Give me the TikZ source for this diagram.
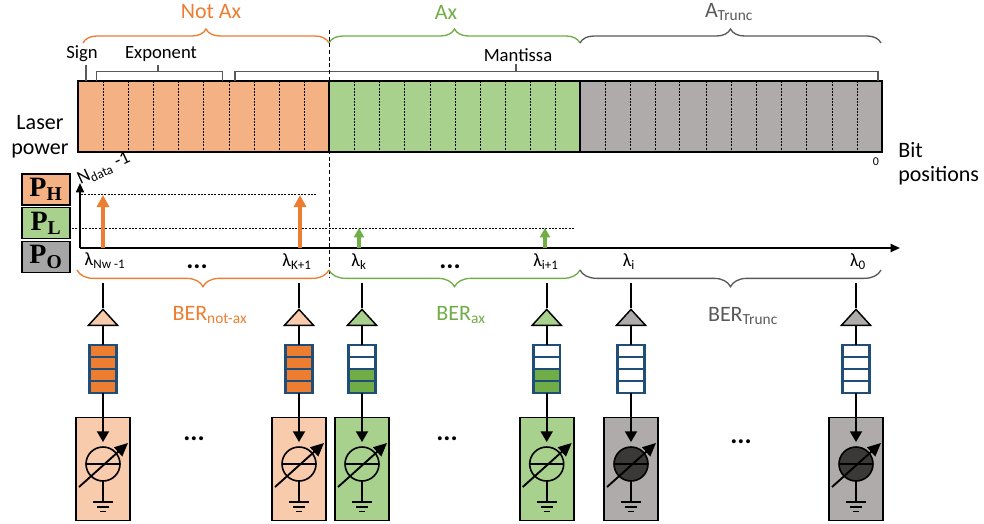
\documentclass[tikz,border=0pt]{standalone}
\usepackage{fontspec}
\setmainfont{Carlito}
\newfontfamily\levelfont{Liberation Serif}
\usetikzlibrary{shapes.geometric,arrows.meta,decorations.pathreplacing,calc}
\definecolor{barorange}{HTML}{F4B183}
\definecolor{bargreen}{HTML}{A9D18E}
\definecolor{bargray}{HTML}{AFABAB}
\definecolor{srcorange}{HTML}{F8CBAD}
\definecolor{lineorange}{HTML}{ED7D31}
\definecolor{linegreen}{HTML}{70AD47}
\definecolor{linegray}{HTML}{595959}
\definecolor{slotblue}{HTML}{1F4E79}
\definecolor{darkcirc}{HTML}{3B3838}
\definecolor{levelgray}{HTML}{A6A6A6}

\begin{document}
\begin{tikzpicture}[x=0.75pt, y=-0.75pt, node distance=39pt,
    bar/.style={draw, line width=1.5pt, minimum height=53.25pt, anchor=north west, inner sep=0pt, outer sep=0pt},
    cell/.style={dash pattern=on 1.5pt off 1pt, line width=0.7pt},
    level/.style={draw, line width=1.1pt, minimum width=36pt, minimum height=23pt, inner sep=0pt, font=\levelfont\fontsize{21}{21}\selectfont\bfseries},
    big/.style={font=\fontsize{16.5}{18}\selectfont, inner sep=0pt},
    mid/.style={font=\fontsize{14}{16}\selectfont, inner sep=0pt},
    tag/.style={line width=0.8pt, draw=linegray},
    bracetop/.style={line width=1pt, decorate, decoration={brace, amplitude=10.5pt}},
    bracelow/.style={line width=1pt, decorate, decoration={brace, mirror, amplitude=12.5pt}},
    axis/.style={line width=1.4pt, -{Triangle[length=7pt, width=6pt]}},
    power/.style={line width=2.5pt, -{Triangle[length=9pt, width=9pt]}},
    powerlow/.style={line width=2.6pt, -{Triangle[length=7pt, width=7.5pt]}},
    amp/.style={draw, line width=1.1pt, isosceles triangle, isosceles triangle stretches, shape border rotate=90, minimum width=22pt, minimum height=12pt, inner sep=0pt},
    slot/.style={draw=slotblue, line width=1.8pt, minimum width=20pt, minimum height=9pt, inner sep=0pt, outer sep=0pt, node distance=9pt},
    srcbox/.style={draw, line width=1.2pt, minimum width=40.5pt, minimum height=77pt, inner sep=0pt},
    srccirc/.style={draw, circle, line width=1.2pt, minimum size=25.5pt, inner sep=0pt, outer sep=0pt},
    wire/.style={line width=1.4pt},
    dots/.style={font=\fontsize{20}{20}\selectfont\bfseries, inner sep=0pt}]
    \useasboundingbox (0,0) rectangle (984,524);

    % Bit fields
    \node[bar, fill=barorange, minimum width=188.25pt] (notax) at (78,81) {};
    \node[bar, fill=bargreen, minimum width=188.25pt] (ax) at (329,81) {};
    \node[bar, fill=bargray, minimum width=226.5pt] (trunc) at (580,81) {};
    \foreach \x in {103,128,153,178,203,229,254,279,304,354,379.5,404.5,430,455,480,505,530,555,605,630,655,679,706,731,756,781,806,832,857}
        \draw[cell] (\x,81) -- (\x,152);

    % Braces and field labels
    \draw[bracetop, draw=lineorange] (83,43) -- (329,43);
    \draw[bracetop, draw=linegreen] (329,43) -- (580,43);
    \draw[bracetop, draw=linegray] (580,43) -- (881,43);
    \node[big, text=lineorange] (notaxlabel) at (211,12) {Not Ax};
    \node[big, text=linegreen] (axlabel) at (446,12) {Ax};
    \node[big, text=linegray] (trunclabel) at (729,12) {A\textsubscript{Trunc}};
    \node[mid] (sign) at (82,54) {Sign};
    \node[mid] (exponent) at (161,54) {Exponent};
    \node[mid] (mantissa) at (518,55) {Mantissa};
    \draw[tag] (86,65) -- (86,81);
    \draw[tag] (96.5,81) -- (96.5,71.5) -- (222.5,71.5) -- (222.5,81);
    \draw[tag] (158,65) -- (158,71.5);
    \draw[tag] (235,81) -- (235,71.5) -- (878,71.5) -- (878,81);
    \draw[tag] (516,64) -- (516,71.5);

    % Side labels
    \node[big] (laser) at (40,123) {Laser};
    \node[big] (laserpower) at (40,151) {power};
    \node[big, anchor=west] (bit) at (898,150) {Bit};
    \node[big, anchor=west] (bitpos) at (898,176) {positions};
    \node[font=\fontsize{9}{9}\selectfont, inner sep=0pt] (zero) at (876,162) {0};
    \node[mid, rotate=25] (msb) at (104,169) {N\textsubscript{data} -1};

    % Power levels
    \node[level, fill=barorange] (ph) at (46,189.5) {P\textsubscript{H}};
    \node[level, fill=bargreen] (pl) at (46,223) {P\textsubscript{L}};
    \node[level, fill=levelgray] (po) at (46,257) {P\textsubscript{O}};
    \draw[cell] (81,194.5) -- (316,194.5);
    \draw[cell] (72,228) -- (575,228);

    % Axes
    \coordinate (origin) at (80,248);
    \coordinate (xend) at (900,248);
    \coordinate (yend) at (80,183);
    \draw[axis] (origin) -- (xend);
    \draw[axis] (origin) -- (yend);
    \coordinate (split) at (329,30);
    \coordinate (splitend) at (329,278);
    \draw[densely dashed, line width=0.7pt] (split) -- (splitend);

    % Laser arrows
    \coordinate (high1) at (103,195);
    \coordinate (high2) at (300,195);
    \coordinate (low1) at (359,228);
    \coordinate (low2) at (545,228);
    \draw[power, lineorange] (high1 |- origin) -- (high1);
    \draw[power, lineorange] (high2 |- origin) -- (high2);
    \draw[powerlow, linegreen] (low1 |- origin) -- (low1);
    \draw[powerlow, linegreen] (low2 |- origin) -- (low2);

    % Wavelengths
    \node[mid] (lam1) at (105,261) {λ\textsubscript{Nw -1}};
    \node[mid] (lam2) at (297,262) {λ\textsubscript{K+1}};
    \node[mid] (lam3) at (359,262) {λ\textsubscript{k}};
    \node[mid] (lam4) at (546,262) {λ\textsubscript{i+1}};
    \node[mid] (lam5) at (629,262) {λ\textsubscript{i}};
    \node[mid] (lam6) at (858,262) {λ\textsubscript{0}};
    \node[dots] (dotsa) at (197,267) {...};
    \node[dots] (dotsb) at (450,267) {...};

    % Lower braces
    \draw[bracelow, draw=lineorange] (77,270) -- (329,270);
    \draw[bracelow, draw=linegreen] (329,270) -- (580,270);
    \draw[bracelow, draw=linegray] (580,270) -- (881,270);
    \node[big, text=lineorange] (bernotax) at (210,315) {BER\textsubscript{not-ax}};
    \node[big, text=linegreen] (berax) at (461,315) {BER\textsubscript{ax}};
    \node[big, text=linegray] (bertrunc) at (743,316) {BER\textsubscript{Trunc}};

    % Readout columns
    \foreach \col/\xpos/\boxfill/\slotup/\slotlow/\circfill in {
        a/103/srcorange/lineorange/lineorange/srcorange,
        b/299/srcorange/lineorange/lineorange/srcorange,
        c/362/bargreen/white/linegreen/bargreen,
        d/546.7/bargreen/white/linegreen/bargreen,
        e/631/bargray/white/white/darkcirc,
        f/856/bargray/white/white/darkcirc} {
        \coordinate (top\col) at (\xpos,283);
        \node[amp, fill=\boxfill] (amp\col) at (\xpos,319) {};
        \node[slot, fill=\slotup, below of=amp\col, node distance=24pt] (qa\col) {};
        \node[slot, fill=\slotup, below of=qa\col] (qb\col) {};
        \node[slot, fill=\slotlow, below of=qb\col] (qc\col) {};
        \node[slot, fill=\slotlow, below of=qc\col] (qd\col) {};
        \node[srcbox, fill=\boxfill, below of=qd\col, node distance=61.5pt] (cur\col) {};
        \node[srccirc, fill=\circfill, yshift=3.75pt] (circ\col) at (cur\col) {};
        \coordinate (tip\col) at ($(circ\col.north)+(0,-5)$);
        \coordinate (gnd\col) at ($(circ\col.south)+(0,21)$);
        \coordinate (sweepa\col) at ($(circ\col)+(-24,23)$);
        \coordinate (sweepb\col) at ($(circ\col)+(25,-21)$);
        \draw[wire] (top\col) -- (amp\col);
        \draw[wire] (amp\col) -- (qa\col);
        \draw[wire, -{Triangle[length=8pt, width=9pt]}] (qd\col) -- (tip\col);
        \draw[wire] (circ\col.west) -- (circ\col.east);
        \draw[wire] (circ\col) -- (gnd\col);
        \draw[wire, -{Triangle[length=10pt, width=9pt]}] (sweepa\col) -- (sweepb\col);
        \draw[wire] ($(gnd\col)+(-10,0)$) -- ($(gnd\col)+(10,0)$);
        \draw[wire, line width=0.9pt] ($(gnd\col)+(-6,5)$) -- ($(gnd\col)+(6,5)$);
        \draw[wire] ($(gnd\col)+(-3,9.5)$) -- ($(gnd\col)+(3,9.5)$);
    }
    \node[dots] (dotsc) at (194,439) {...};
    \node[dots] (dotsd) at (447,439) {...};
    \node[dots] (dotse) at (741,442) {...};
\end{tikzpicture}
\end{document}
